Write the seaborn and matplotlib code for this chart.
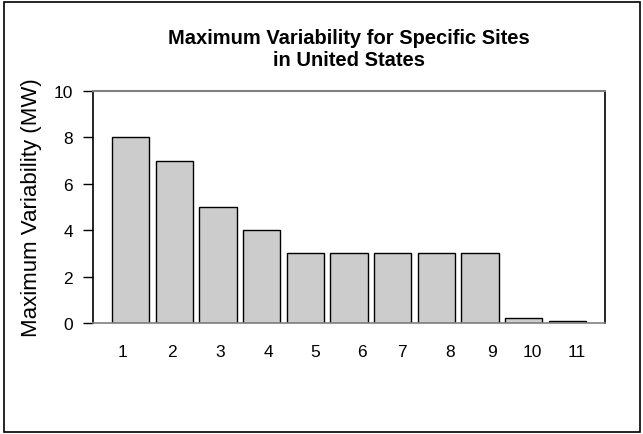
import matplotlib
matplotlib.use("Agg")
import matplotlib.pyplot as plt
import seaborn as sns
import pandas as pd
from matplotlib.patches import Rectangle

categories = ["1", "2", "3", "4", "5", "6", "7", "8", "9", "10", "11"]
values = [8, 7, 5, 4, 3, 3, 3, 3, 3, 0.2, 0.1]
y_ticks = [0, 2, 4, 6, 8, 10]
title = "Maximum Variability for Specific Sites\nin United States"
y_label = "Maximum Variability (MW)"

sns.set_theme(style="white")
plt.rcParams["font.family"] = ["Liberation Sans", "DejaVu Sans"]
plt.rcParams["text.color"] = "black"
plt.rcParams["axes.labelcolor"] = "black"
plt.rcParams["xtick.color"] = "black"
plt.rcParams["ytick.color"] = "black"

df = pd.DataFrame({"site": categories, "mw": values})

fig = plt.figure(figsize=(6.43, 4.35), dpi=100)
ax = fig.add_axes([93/643, 1-324/435, (605-93)/643, (324-92)/435])

sns.barplot(data=df, x="site", y="mw", order=categories, color="#cccccc",
            edgecolor="black", linewidth=1.0, width=0.85, saturation=1, ax=ax)

ax.set_xlim(-0.86, 10.86)
ax.set_ylim(0, 10)
ax.set_yticks(y_ticks)
ax.set_yticklabels([str(t) for t in y_ticks], fontsize=12.5)

# tick label positions (layout offsets as drawn in the reference)
label_offsets = [-0.19, -0.05, 0.05, 0.15, 0.22, 0.30, 0.21, 0.31, 0.27, 0.19, 0.22]
ax.set_xticks([i + o for i, o in enumerate(label_offsets)])
ax.set_xticklabels(categories, fontsize=12.5)
ax.tick_params(axis="x", length=0, pad=15)
ax.tick_params(axis="y", direction="out", length=7.5, width=1, color="black", pad=7, left=True)

ax.set_xlabel("")
ax.set_ylabel(y_label, fontsize=16, labelpad=8)
ax.set_title(title, fontsize=14.5, fontweight="bold", pad=19, color="black",
             linespacing=1.15)

for s in ["left", "right"]:
    ax.spines[s].set_color("black")
    ax.spines[s].set_linewidth(1.2)
ax.spines["top"].set_color("#808080")
ax.spines["top"].set_linewidth(1.5)
ax.spines["bottom"].set_color("#808080")
ax.spines["bottom"].set_linewidth(1.2)

fig.patches.append(Rectangle((4/643, 2/435), 636/643, 430/435, transform=fig.transFigure,
                             fill=False, edgecolor="black", linewidth=1.2))

fig.savefig("out.png", dpi=100)
